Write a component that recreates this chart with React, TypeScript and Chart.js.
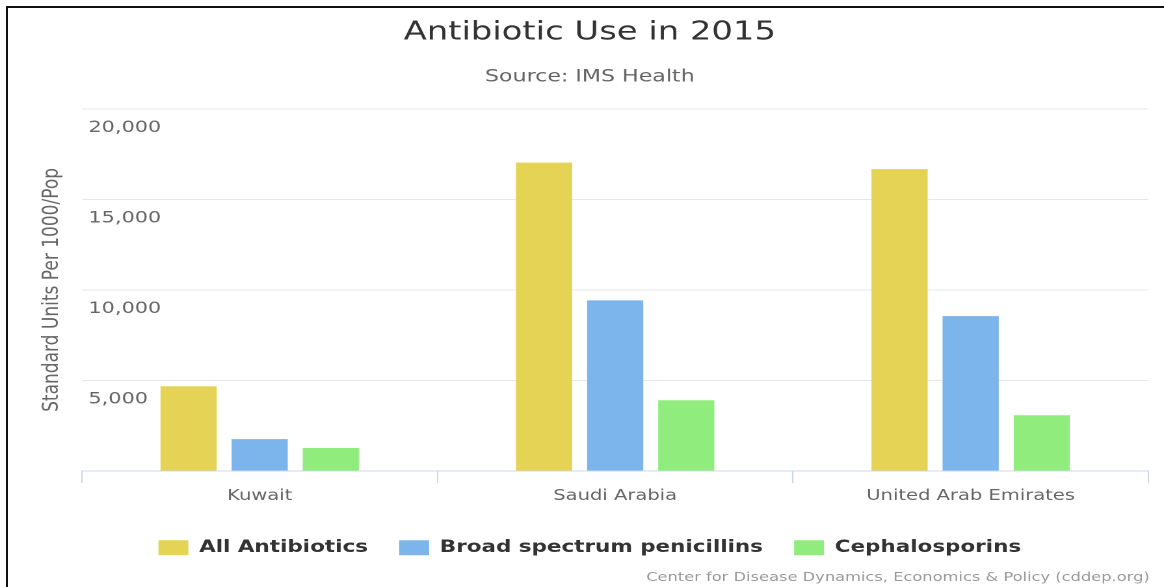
import React, { useEffect, useRef } from "react";
import { Chart, registerables } from "chart.js";

Chart.register(...registerables);

// Data
const categories = ["Kuwait", "Saudi Arabia", "United Arab Emirates"];
const seriesNames = ["All Antibiotics", "Broad spectrum penicillins", "Cephalosporins"];
const allAntibiotics = [4680, 17030, 16670];
const broadSpectrumPenicillins = [1760, 9420, 8550];
const cephalosporins = [1270, 3910, 3080];
const yTicks = [0, 5000, 10000, 15000, 20000];

const titleText = "Antibiotic Use in 2015";
const subtitleText = "Source: IMS Health";
const yAxisTitle = "Standard Units Per 1000/Pop";
const creditText = "Center for Disease Dynamics, Economics & Policy (cddep.org)";

// The chart is laid out on a narrower canvas and widened to the page width.
const CHART_W = 895;
const CHART_H = 587;
const STRETCH = 1164 / CHART_W;
const FONT = "'DejaVu Sans', sans-serif";

const creditsPlugin = {
  id: "credits",
  afterDraw(chart: any) {
    const ctx = chart.ctx;
    ctx.save();
    ctx.font = `12.5px ${FONT}`;
    ctx.fillStyle = "#999999";
    ctx.textAlign = "right";
    ctx.textBaseline = "middle";
    ctx.fillText(creditText, chart.width - 11, 577.5);
    ctx.restore();
  },
};

export default function App() {
  const canvasRef = useRef<HTMLCanvasElement>(null);

  useEffect(() => {
    if (!canvasRef.current) return;
    Chart.defaults.font.family = FONT;
    const chart = new Chart(canvasRef.current, {
      type: "bar",
      data: {
        labels: categories,
        datasets: [
          { label: seriesNames[0], data: allAntibiotics, backgroundColor: "#e4d354" },
          { label: seriesNames[1], data: broadSpectrumPenicillins, backgroundColor: "#7cb5ec" },
          { label: seriesNames[2], data: cephalosporins, backgroundColor: "#90ed7d" },
        ].map((d) => ({
          ...d,
          borderWidth: 0,
          categoryPercentage: 0.6,
          barPercentage: 0.79,
        })),
      },
      options: {
        animation: false,
        responsive: true,
        maintainAspectRatio: false,
        devicePixelRatio: 2,
        layout: { padding: { left: 24, right: 12, top: 0, bottom: 21 } },
        plugins: {
          title: {
            display: true,
            text: titleText,
            color: "#333333",
            font: { family: FONT, size: 26, weight: "normal" },
            padding: { top: 17, bottom: 0 },
          },
          subtitle: {
            display: true,
            text: subtitleText,
            color: "#666666",
            font: { family: FONT, size: 17, weight: "normal" },
            padding: { top: 18.6, bottom: 21.6 },
          },
          legend: {
            position: "bottom",
            labels: {
              boxWidth: 23,
              boxHeight: 15,
              padding: 24,
              color: "#333333",
              font: { family: FONT, size: 16.5, weight: "bold" },
            },
          },
          tooltip: { enabled: false },
        },
        scales: {
          x: {
            offset: true,
            grid: {
              offset: true,
              drawOnChartArea: false,
              drawTicks: true,
              tickLength: 12,
              color: "#ccd6eb",
            },
            border: { display: true, color: "#ccd6eb", width: 1 },
            ticks: {
              color: "#666666",
              font: { family: FONT, size: 15 },
              padding: 4,
            },
            afterFit: (scale: any) => {
              scale.height += 6.5;
            },
          },
          y: {
            min: 0,
            max: 20000,
            afterBuildTicks: (scale: any) => {
              scale.ticks = yTicks.map((v) => ({ value: v }));
            },
            grid: {
              drawTicks: false,
              color: (ctx: any) => (ctx.tick && ctx.tick.value === 0 ? "rgba(0,0,0,0)" : "#e6e6e6"),
            },
            border: { display: false },
            ticks: {
              mirror: true,
              padding: 5,
              labelOffset: 19,
              color: "#666666",
              font: { family: FONT, size: 16 },
              callback: (v: any) => (Number(v) === 0 ? "" : Number(v).toLocaleString("en-US")),
            },
            title: {
              display: true,
              text: yAxisTitle,
              color: "#666666",
              font: { family: FONT, size: 17 },
              padding: { top: 6, bottom: 0 },
            },
            afterFit: (scale: any) => {
              scale.width = 39;
            },
          },
        },
      },
      plugins: [creditsPlugin],
    } as any);
    return () => chart.destroy();
  }, []);

  return (
    <div
      style={{
        position: "fixed",
        left: 0,
        top: 0,
        width: 1164,
        height: 587,
        overflow: "hidden",
        background: "#ffffff",
      }}
    >
      <div
        style={{
          position: "absolute",
          left: 0,
          top: 0,
          width: CHART_W,
          height: CHART_H,
          transform: `scaleX(${STRETCH})`,
          transformOrigin: "0 0",
        }}
      >
        <canvas ref={canvasRef} />
      </div>
      <div
        style={{
          position: "absolute",
          left: 6,
          top: 6,
          width: 1400,
          height: 800,
          borderLeft: "2px solid #111111",
          borderTop: "2px solid #111111",
          pointerEvents: "none",
        }}
      />
    </div>
  );
}
